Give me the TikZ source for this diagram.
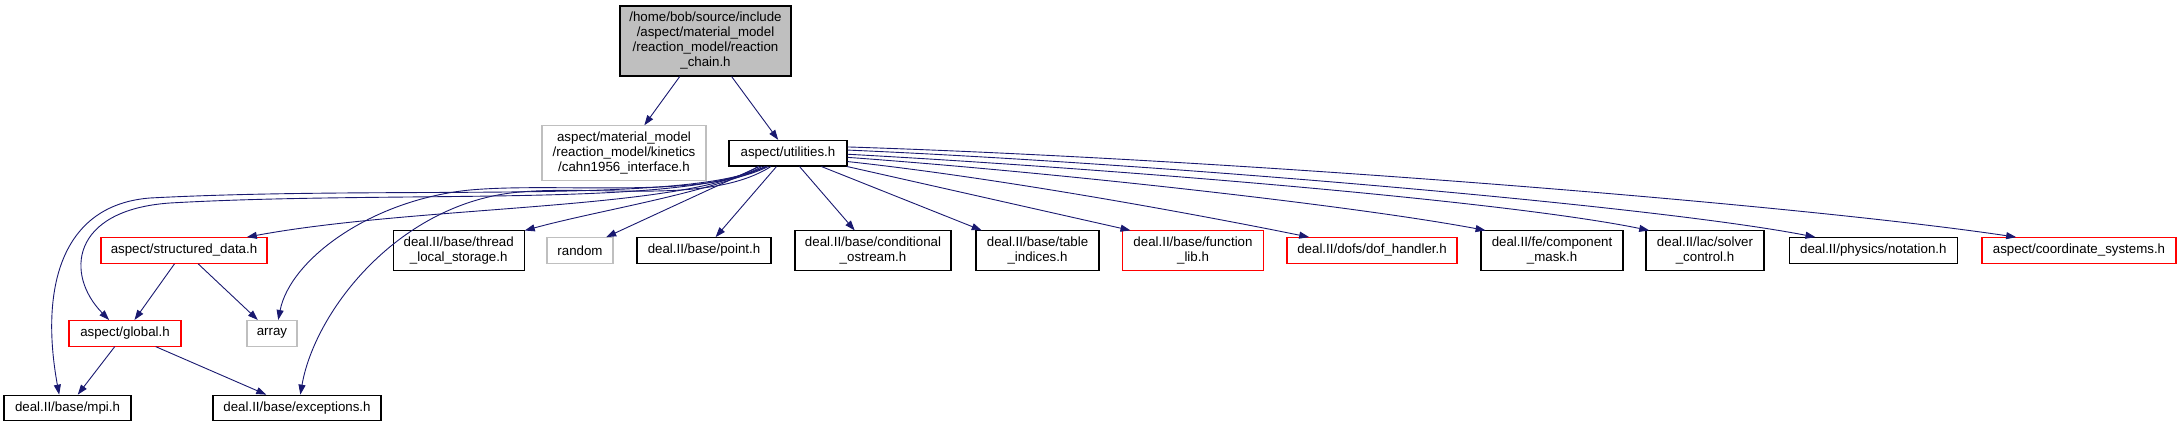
\documentclass[tikz,border=0pt]{standalone}
\usepackage{fontspec}
\setmainfont{Liberation Sans}
\usetikzlibrary{arrows.meta}
\definecolor{edgeblue}{HTML}{191970}
\definecolor{boxgray}{HTML}{BFBFBF}

\begin{document}
\begin{tikzpicture}[x=1pt,y=-1pt,
    hfile/.style={draw=black,line width=1.1pt,inner sep=0pt,align=center,
      minimum height=25.6pt,font=\fontsize{13.3pt}{15pt}\selectfont},
    redfile/.style={hfile,draw=red},
    sysfile/.style={hfile,draw=boxgray},
    twolines/.style={minimum height=39.5pt},
    incl/.style={draw=edgeblue,line width=0.9pt,-{Triangle[length=10pt,width=7pt]}}]
  \useasboundingbox (0,0) rectangle (2180,427);

  \node[hfile,fill=boxgray,minimum width=171pt,minimum height=70pt] (chain) at (705.5,41)
    {/home/bob/source/include\\/aspect/material\_model\\/reaction\_model/reaction\\\_chain.h};
  \node[sysfile,minimum width=164pt,minimum height=55pt] (cahn) at (624,153.3)
    {aspect/material\_model\\/reaction\_model/kinetics\\/cahn1956\_interface.h};
  \node[hfile,minimum width=118pt] (util) at (788,153.2) {aspect/utilities.h};

  \node[redfile,minimum width=166pt] (structdata) at (184,250.5) {aspect/structured\_data.h};
  \node[hfile,twolines,minimum width=131pt] (thread) at (458.7,250.7) {deal.II/base/thread\\\_local\_storage.h};
  \node[sysfile,minimum width=66pt] (random) at (580,250.5) {random};
  \node[hfile,minimum width=134pt] (point) at (704,250.5) {deal.II/base/point.h};
  \node[hfile,twolines,minimum width=156pt] (condostream) at (873,250.7) {deal.II/base/conditional\\\_ostream.h};
  \node[hfile,twolines,minimum width=123pt] (tableidx) at (1037.5,250.7) {deal.II/base/table\\\_indices.h};
  \node[redfile,twolines,minimum width=141pt] (functionlib) at (1193,250.7) {deal.II/base/function\\\_lib.h};
  \node[redfile,minimum width=170pt] (dofhandler) at (1372,250.5) {deal.II/dofs/dof\_handler.h};
  \node[hfile,twolines,minimum width=142pt] (compmask) at (1552,250.7) {deal.II/fe/component\\\_mask.h};
  \node[hfile,twolines,minimum width=118pt] (solverctrl) at (1705,250.7) {deal.II/lac/solver\\\_control.h};
  \node[hfile,minimum width=168pt] (notation) at (1873.3,250.5) {deal.II/physics/notation.h};
  \node[redfile,minimum width=194pt] (coordsys) at (2079,250.5) {aspect/coordinate\_systems.h};

  \node[redfile,minimum width=112pt] (global) at (125,333.3) {aspect/global.h};
  \node[sysfile,minimum width=50pt] (array) at (272,333.3) {array};
  \node[hfile,minimum width=127pt] (mpi) at (67.5,408) {deal.II/base/mpi.h};
  \node[hfile,minimum width=168pt] (exceptions) at (297,408) {deal.II/base/exceptions.h};

  \draw[incl] (chain) -- (cahn);
  \draw[incl] (chain) -- (util);

  \draw[incl] (util.210) .. controls (690,205) and (400,185) .. (150,198)
    .. controls (60,205) and (40,290) .. (mpi.122);
  \draw[incl] (util.207) .. controls (690,208) and (400,190) .. (170,203)
    .. controls (70,210) and (65,275) .. (global.140);
  \draw[incl] (util.204) .. controls (690,210) and (420,205) .. (structdata.12);
  \draw[incl] (util.214) .. controls (700,200) and (560,182) .. (470,190)
    .. controls (370,200) and (290,260) .. (array.65);
  \draw[incl] (util.218) .. controls (710,205) and (600,185) .. (520,192)
    .. controls (400,202) and (315,310) .. (exceptions.76);
  \draw[incl] (util.212) .. controls (700,195) and (600,210) .. (thread.17);
  \draw[incl] (util) -- (random.27);
  \draw[incl] (util) -- (point.49);
  \draw[incl] (util) -- (condostream.132);
  \draw[incl] (util) -- (tableidx.160);
  \draw[incl] (util) -- (functionlib.162);
  \draw[incl] (util.-8) .. controls (1000,178) and (1200,215) .. (dofhandler.168);
  \draw[incl] (util.-4) .. controls (1050,172) and (1350,205) .. (compmask.163);
  \draw[incl] (util.-1) .. controls (1100,168) and (1500,200) .. (solverctrl.160);
  \draw[incl] (util.3) .. controls (1150,163) and (1650,205) .. (notation.167);
  \draw[incl] (util.6) .. controls (1250,160) and (1800,205) .. (coordsys.168);

  \draw[incl] (structdata) -- (global);
  \draw[incl] (structdata) -- (array);
  \draw[incl] (global) -- (mpi);
  \draw[incl] (global) -- (exceptions);
\end{tikzpicture}
\end{document}
